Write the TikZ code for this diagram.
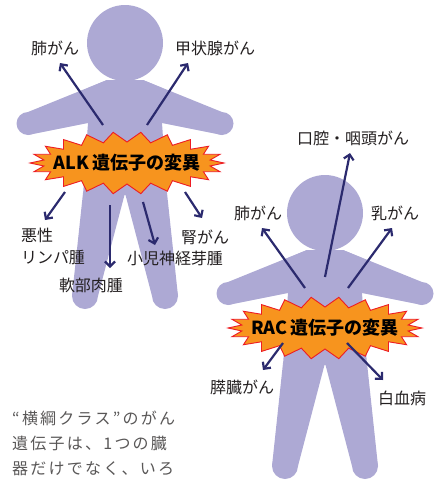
\documentclass[tikz,border=0pt]{standalone}
\usepackage{fontspec}
\usetikzlibrary{arrows.meta}
\newfontfamily\jp{Noto Sans CJK JP}
\newfontfamily\jpwide[LetterSpace=14]{Noto Sans CJK JP}
\definecolor{bodycol}{RGB}{173,169,212}
\definecolor{arrcol}{RGB}{43,42,110}
\definecolor{burstfill}{RGB}{247,148,30}
\definecolor{burstline}{RGB}{237,28,36}
\definecolor{txtcol}{RGB}{35,31,32}
\definecolor{notecol}{RGB}{89,87,87}
\tikzset{
	% pictogram of a person, origin at the centre of the head
	person/.pic={
		\fill[bodycol] (0,0) circle[radius=38];
		\fill[bodycol] (-18,37) -- (-97,69) -- (-97,92) -- (-37,80) -- cycle;
		\fill[bodycol] (18,37) -- (97,69) -- (97,92) -- (37,80) -- cycle;
		\fill[bodycol] (-97,80.5) circle[radius=11.5];
		\fill[bodycol] (97,80.5) circle[radius=11.5];
		\fill[bodycol] (-18,37) -- (18,37) -- (37,45) -- (37,80) -- (42,152) -- (-42,152) -- (-37,80) -- (-37,45) -- cycle;
		\fill[bodycol] (-42,150) -- (0,150) -- (-27,253) -- (-53,253) -- cycle;
		\fill[bodycol] (42,150) -- (0,150) -- (27,253) -- (53,253) -- cycle;
		\fill[bodycol] (-40,253) circle[radius=13];
		\fill[bodycol] (40,253) circle[radius=13];
	},
	% jagged orange star
	burst/.pic={
		\filldraw[fill=burstfill, draw=burstline, line width=0.9pt]
		plot[samples at={0,...,43}] ({(84+13*mod(\x+1,2))*cos(\x*360/44)}, {(21+10*mod(\x+1,2))*sin(\x*360/44)}) -- cycle;
	}
}
\begin{document}
\begin{tikzpicture}[x=1pt, y=-1pt, >={Straight Barb[length=5pt,width=10pt]},
	lbl/.style={font=\jp\fontsize{16}{22}\selectfont, text=txtcol, inner sep=1pt},
	hot/.style={font=\jp\bfseries\fontsize{18}{20}\selectfont, text=black, inner sep=0pt},
	arr/.style={->, draw=arrcol, line width=2.2pt}]
	\useasboundingbox (0,0) rectangle (442,480);
	\pic at (125,43) {person};
	\pic at (325,213) {person};
	\pic at (127,163) {burst};
	\pic at (325,328) {burst};
	\node[hot] (alk) at (127,163) {ALK\,遺伝子の変異};
	\node[hot] (rac) at (325,328) {RAC\,遺伝子の変異};
	% ALK
	\node[lbl] (lungA) at (55,48) {肺がん};
	\node[lbl] (thyroid) at (215,48) {甲状腺がん};
	\node[lbl, align=left] (lymph) at (53,246) {悪性\\リンパ腫};
	\node[lbl] (sarcoma) at (91,285) {軟部肉腫};
	\node[lbl] (neuro) at (175,258) {小児神経芽腫};
	\node[lbl] (kidney) at (205,237) {腎がん};
	\draw[arr] ([shift={(-24,-38)}]alk.center) -- ([shift={(5,15)}]lungA.center);
	\draw[arr] ([shift={(20,-38)}]alk.center) -- ([shift={(-27,15)}]thyroid.center);
	\draw[arr] ([shift={(-62,29)}]alk.center) -- ([shift={(-8,-26)}]lymph.center);
	\draw[arr] ([shift={(-17,42)}]alk.center) -- ([shift={(19,-17)}]sarcoma.center);
	\draw[arr] ([shift={(16,39)}]alk.center) -- ([shift={(-20,-13)}]neuro.center);
	\draw[arr] ([shift={(58,29)}]alk.center) -- ([shift={(-3,-19)}]kidney.center);
	% RAC
	\node[lbl] (oral) at (353,138) {口腔・咽頭がん};
	\node[lbl] (lungB) at (258,213) {肺がん};
	\node[lbl] (breast) at (395,213) {乳がん};
	\node[lbl] (pancreas) at (242,387) {膵臓がん};
	\node[lbl] (leuk) at (402,398) {白血病};
	\draw[arr] ([shift={(0,-51)}]rac.center) -- ([shift={(-3,15)}]oral.center);
	\draw[arr] ([shift={(-20,-40)}]rac.center) -- ([shift={(4,15)}]lungB.center);
	\draw[arr] ([shift={(23,-40)}]rac.center) -- ([shift={(-3,15)}]breast.center);
	\draw[arr] ([shift={(-42,15)}]rac.center) -- ([shift={(21,-17)}]pancreas.center);
	\draw[arr] ([shift={(22,15)}]rac.center) -- ([shift={(-19,-18)}]leuk.center);
	\node[anchor=west, align=left, text=notecol, inner sep=0pt, font=\jpwide\fontsize{16}{25}\selectfont] (note) at (12,443) {“横綱クラス”のがん\\遺伝子は、1つの臓\\器だけでなく、いろ};
\end{tikzpicture}
\end{document}
